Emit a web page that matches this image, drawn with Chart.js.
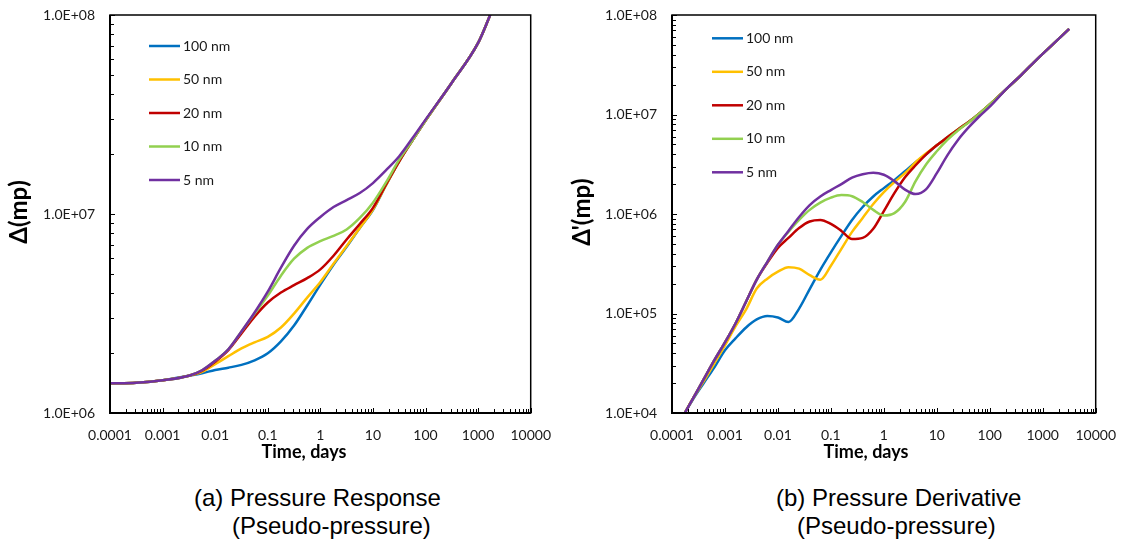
<!DOCTYPE html>
<html>
<head>
<meta charset="utf-8">
<title>Pressure response and derivative</title>
<script src="https://cdn.jsdelivr.net/npm/chart.js@4.4.1/dist/chart.umd.min.js"></script>
<style>
  html, body { margin: 0; padding: 0; background: #fff; }
  #page { position: relative; width: 1130px; height: 542px; overflow: hidden; }
  .panel { position: absolute; top: 0; width: 565px; height: 470px; }
  .cap { position: absolute; font-family: "Liberation Sans", Arial, sans-serif; font-size: 24px;
         line-height: 28px; color: #000; white-space: nowrap; }
</style>
</head>
<body>
<div id="page">
  <div class="panel" style="left:0"><canvas id="responseChart" width="565" height="470"></canvas></div>
  <div class="panel" style="left:565px"><canvas id="derivativeChart" width="565" height="470"></canvas></div>
  <div class="cap" style="left:194px; top:484px">(a) Pressure Response</div>
  <div class="cap" style="left:232px; top:512px">(Pseudo-pressure)</div>
  <div class="cap" style="left:776px; top:484px">(b) Pressure Derivative</div>
  <div class="cap" style="left:797px; top:512px">(Pseudo-pressure)</div>
</div>

<script>
// series names and colours (Excel palette)
const seriesNames = ['100 nm', '50 nm', '20 nm', '10 nm', '5 nm'];
const seriesColors = ['#0070C0', '#FFC000', '#C00000', '#92D050', '#7030A0'];

// axis ticks
const timeTicks = [0.0001, 0.001, 0.01, 0.1, 1, 10, 100, 1000, 10000];
const timeTickLabels = ['0.0001', '0.001', '0.01', '0.1', '1', '10', '100', '1000', '10000'];
const responseTicks = [1e6, 1e7, 1e8];
const responseTickLabels = ['1.0E+06', '1.0E+07', '1.0E+08'];
const derivTicks = [1e4, 1e5, 1e6, 1e7, 1e8];
const derivTickLabels = ['1.0E+04', '1.0E+05', '1.0E+06', '1.0E+07', '1.0E+08'];

// (a) pressure response
const responseTime = [0.0001, 0.000316, 0.001, 0.00316, 0.00562, 0.01, 0.0178, 0.0316, 0.0562, 0.1,
  0.178, 0.316, 0.562, 1, 1.78, 3.16, 5.62, 10, 17.8, 31.6, 56.2, 100, 316, 1000, 1700];
const response100 = [1.41e6, 1.42e6, 1.46e6, 1.54e6, 1.585e6, 1.644e6, 1.69e6, 1.746e6, 1.84e6, 1.995e6,
  2.29e6, 2.75e6, 3.47e6, 4.42e6, 5.56e6, 6.84e6, 8.51e6, 1.047e7, 1.40e7, 1.84e7, 2.34e7, 2.95e7, 4.57e7, 7.24e7, 1.0e8];
const response50 = [1.41e6, 1.42e6, 1.46e6, 1.54e6, 1.61e6, 1.76e6, 1.93e6, 2.11e6, 2.265e6, 2.415e6,
  2.69e6, 3.16e6, 3.80e6, 4.55e6, 5.62e6, 6.90e6, 8.51e6, 1.052e7, 1.40e7, 1.84e7, 2.34e7, 2.95e7, 4.57e7, 7.24e7, 1.0e8];
const response20 = [1.41e6, 1.42e6, 1.46e6, 1.54e6, 1.63e6, 1.81e6, 2.07e6, 2.51e6, 3.05e6, 3.59e6,
  4.03e6, 4.39e6, 4.76e6, 5.27e6, 6.17e6, 7.45e6, 8.91e6, 1.074e7, 1.41e7, 1.84e7, 2.34e7, 2.95e7, 4.57e7, 7.24e7, 1.0e8];
const response10 = [1.41e6, 1.42e6, 1.46e6, 1.54e6, 1.64e6, 1.83e6, 2.09e6, 2.57e6, 3.16e6, 3.89e6,
  4.90e6, 5.96e6, 6.76e6, 7.31e6, 7.76e6, 8.36e6, 9.55e6, 1.14e7, 1.445e7, 1.875e7, 2.34e7, 2.95e7, 4.57e7, 7.24e7, 1.0e8];
const response5 = [1.41e6, 1.42e6, 1.46e6, 1.54e6, 1.64e6, 1.83e6, 2.09e6, 2.57e6, 3.20e6, 4.07e6,
  5.37e6, 6.92e6, 8.41e6, 9.66e6, 1.084e7, 1.175e7, 1.274e7, 1.43e7, 1.66e7, 1.95e7, 2.40e7, 2.98e7, 4.57e7, 7.24e7, 1.0e8];

// (b) pressure derivative
const derivTime = [0.000174, 0.000251, 0.000398, 0.000631, 0.001, 0.00158, 0.00251, 0.00398, 0.00631, 0.01,
  0.0158, 0.0251, 0.0398, 0.0631, 0.1, 0.158, 0.251, 0.398, 0.631, 1,
  1.58, 2.51, 3.98, 6.31, 10, 15.8, 25.1, 39.8, 63.1, 100, 200, 398, 794, 1585, 3162];
const deriv100 = [1.0e4, 1.38e4, 2.0e4, 2.88e4, 4.27e4, 5.62e4, 7.24e4, 8.71e4, 9.44e4, 9.12e4,
  8.22e4, 1.12e5, 1.76e5, 2.75e5, 4.12e5, 6.03e5, 8.71e5, 1.175e6, 1.50e6, 1.82e6,
  2.19e6, 2.69e6, 3.31e6, 3.98e6, 4.90e6, 5.89e6, 7.08e6, 8.41e6, 1.02e7, 1.26e7, 1.78e7, 2.51e7, 3.63e7, 5.13e7, 7.24e7];
const deriv50 = [1.0e4, 1.41e4, 2.09e4, 3.16e4, 4.79e4, 7.41e4, 1.10e5, 1.78e5, 2.24e5, 2.63e5,
  2.92e5, 2.82e5, 2.43e5, 2.19e5, 3.02e5, 4.47e5, 6.61e5, 9.12e5, 1.26e6, 1.66e6,
  2.09e6, 2.57e6, 3.31e6, 4.07e6, 4.90e6, 5.89e6, 7.08e6, 8.41e6, 1.02e7, 1.26e7, 1.78e7, 2.51e7, 3.63e7, 5.13e7, 7.24e7];
const deriv20 = [1.0e4, 1.41e4, 2.19e4, 3.39e4, 5.13e4, 7.94e4, 1.32e5, 2.19e5, 3.24e5, 4.57e5,
  5.75e5, 7.24e5, 8.41e5, 8.71e5, 7.94e5, 6.76e5, 5.60e5, 5.75e5, 7.10e5, 1.07e6,
  1.62e6, 2.34e6, 3.09e6, 3.98e6, 4.90e6, 5.89e6, 7.08e6, 8.41e6, 1.02e7, 1.26e7, 1.78e7, 2.51e7, 3.63e7, 5.13e7, 7.24e7];
const deriv10 = [1.0e4, 1.41e4, 2.19e4, 3.39e4, 5.13e4, 7.94e4, 1.32e5, 2.19e5, 3.31e5, 4.90e5,
  6.61e5, 8.71e5, 1.10e6, 1.30e6, 1.46e6, 1.55e6, 1.51e6, 1.32e6, 1.10e6, 9.66e5,
  1.02e6, 1.32e6, 2.14e6, 3.16e6, 4.27e6, 5.56e6, 6.92e6, 8.32e6, 1.02e7, 1.26e7, 1.78e7, 2.51e7, 3.63e7, 5.13e7, 7.24e7];
const deriv5 = [1.0e4, 1.41e4, 2.19e4, 3.39e4, 5.13e4, 7.94e4, 1.32e5, 2.19e5, 3.31e5, 4.90e5,
  6.76e5, 9.33e5, 1.23e6, 1.50e6, 1.74e6, 2.00e6, 2.32e6, 2.51e6, 2.60e6, 2.48e6,
  2.14e6, 1.76e6, 1.585e6, 1.78e6, 2.57e6, 3.89e6, 5.55e6, 7.41e6, 9.55e6, 1.20e7, 1.78e7, 2.51e7, 3.63e7, 5.13e7, 7.24e7];

Chart.defaults.font.family = 'Lato';
Chart.defaults.font.size = 14;
Chart.defaults.color = '#1a1a1a';

// 1..9 x 10^n ticks on a log axis
function logTicks(majors) {
    return (scale) => {
        const ticks = [];
        majors.forEach((v, i) => {
            ticks.push({ value: v, major: true });
            if (i < majors.length - 1) {
                for (let k = 2; k <= 9; k++) ticks.push({ value: v * k, major: false });
            }
        });
        scale.ticks = ticks;
    };
}

function tickLabel(majors, labels) {
    return (value, index, ticks) => ticks[index].major ? labels[majors.indexOf(ticks[index].value)] : '';
}

// frame, inward tick marks, axis titles and the legend inside the plot
const framePlugin = {
    id: 'frame',
    afterDatasetsDraw(chart, args, opts) {
        const { ctx, chartArea: a, scales: { x, y } } = chart;
        ctx.save();
        ctx.strokeStyle = '#000';
        ctx.lineWidth = 1;
        ctx.beginPath();
        x.ticks.forEach(t => {
            const px = Math.round(x.getPixelForValue(t.value)) + 0.5;
            ctx.moveTo(px, a.bottom);
            ctx.lineTo(px, a.bottom - (t.major ? 5 : 4));
        });
        y.ticks.forEach(t => {
            const py = Math.round(y.getPixelForValue(t.value)) + 0.5;
            ctx.moveTo(a.left, py);
            ctx.lineTo(a.left + (t.major ? 5 : 4), py);
        });
        ctx.stroke();

        ctx.lineWidth = 1.5;
        ctx.strokeRect(a.left, a.top, a.right - a.left, a.bottom - a.top);
        ctx.lineWidth = 2;
        ctx.beginPath();
        ctx.moveTo(a.left, a.top);
        ctx.lineTo(a.left, a.bottom);
        ctx.lineTo(a.right, a.bottom);
        ctx.stroke();

        // axis titles
        ctx.fillStyle = '#000';
        ctx.textAlign = 'center';
        ctx.textBaseline = 'middle';
        ctx.font = 'bold 18px Lato';
        ctx.fillText(opts.xTitle, opts.xTitleX, opts.xTitleY);
        ctx.save();
        ctx.translate(opts.yTitleX, opts.yTitleY);
        ctx.rotate(-Math.PI / 2);
        ctx.font = 'bold 24px Lato';
        ctx.fillText(opts.yTitle, 0, 0);
        ctx.restore();

        // legend
        ctx.font = '14px Lato';
        ctx.textAlign = 'left';
        ctx.fillStyle = '#1a1a1a';
        chart.data.datasets.forEach((ds, i) => {
            const ly = opts.legendY + i * 33.5;
            ctx.strokeStyle = ds.borderColor;
            ctx.lineWidth = 2.5;
            ctx.beginPath();
            ctx.moveTo(opts.legendX, ly);
            ctx.lineTo(opts.legendX + 31, ly);
            ctx.stroke();
            ctx.fillText(ds.label, opts.legendX + 34, ly);
        });
        ctx.restore();
    }
};

function makeDatasets(times, series) {
    return series.map((vals, i) => ({
        label: seriesNames[i],
        data: times.map((t, j) => ({ x: t, y: vals[j] })),
        borderColor: seriesColors[i],
        backgroundColor: seriesColors[i],
        borderWidth: 2.5,
        pointRadius: 0,
        fill: false,
        cubicInterpolationMode: 'monotone',
        order: series.length - 1 - i
    }));
}

function renderLogChart(canvasId, datasets, yMajors, yLabels, axisWidth, padRight, frameOpts) {
    const ctx = document.getElementById(canvasId).getContext('2d');
    new Chart(ctx, {
        type: 'line',
        data: { datasets },
        options: {
            responsive: false,
            animation: false,
            devicePixelRatio: 1,
            layout: { padding: { top: 15, right: padRight, left: 0, bottom: 0 } },
            plugins: {
                legend: { display: false },
                tooltip: { enabled: false },
                frame: frameOpts
            },
            scales: {
                x: {
                    type: 'logarithmic',
                    min: timeTicks[0],
                    max: timeTicks[timeTicks.length - 1],
                    grid: { display: false, drawTicks: false },
                    border: { display: false },
                    afterBuildTicks: logTicks(timeTicks),
                    afterFit: (s) => { s.height = 57; },
                    ticks: { autoSkip: false, maxRotation: 0, padding: 14,
                             callback: tickLabel(timeTicks, timeTickLabels) }
                },
                y: {
                    type: 'logarithmic',
                    min: yMajors[0],
                    max: yMajors[yMajors.length - 1],
                    // tick length only spaces the labels; the marks are drawn by the plugin
                    grid: { display: false, drawTicks: true, tickLength: 9 },
                    border: { display: false },
                    afterBuildTicks: logTicks(yMajors),
                    afterFit: (s) => { s.width = axisWidth; },
                    ticks: { autoSkip: false, padding: 6,
                             callback: tickLabel(yMajors, yLabels) }
                }
            }
        },
        plugins: [framePlugin]
    });
}

renderLogChart('responseChart',
    makeDatasets(responseTime, [response100, response50, response20, response10, response5]),
    responseTicks, responseTickLabels, 110, 25,
    { xTitle: 'Time, days', xTitleX: 304, xTitleY: 452, yTitle: 'Δ(mp)', yTitleX: 19, yTitleY: 212,
      legendX: 149, legendY: 46 });

renderLogChart('derivativeChart',
    makeDatasets(derivTime, [deriv100, deriv50, deriv20, deriv10, deriv5]),
    derivTicks, derivTickLabels, 107, 26,
    { xTitle: 'Time, days', xTitleX: 301, xTitleY: 452, yTitle: 'Δ\'(mp)', yTitleX: 17, yTitleY: 212,
      legendX: 147, legendY: 38.3 });
</script>
</body>
</html>
